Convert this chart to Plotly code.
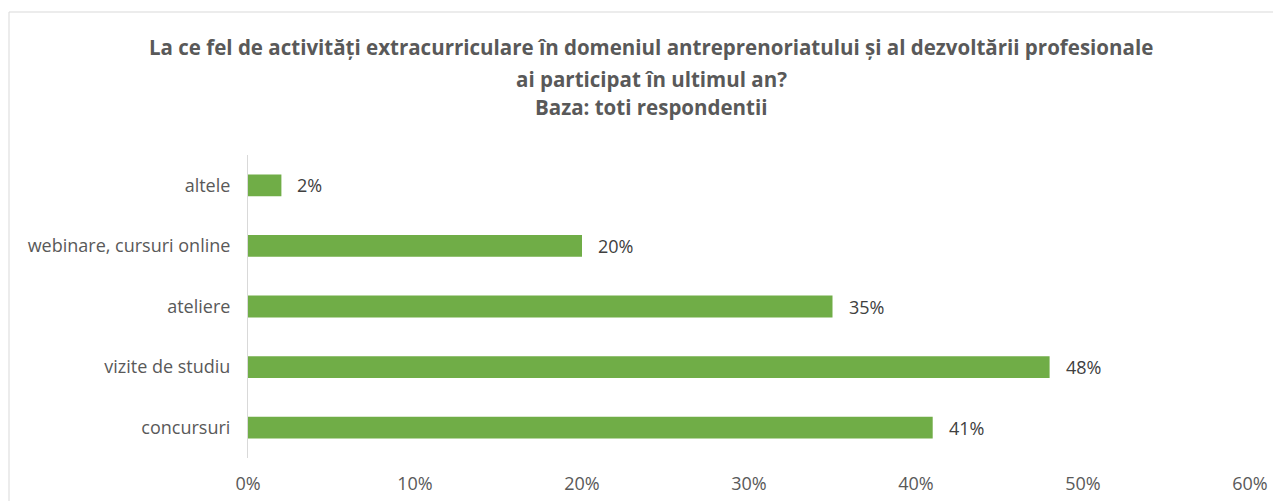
import plotly.graph_objects as go

categories = ["concursuri", "vizite de studiu", "ateliere", "webinare, cursuri online", "altele"]
values = [0.41, 0.48, 0.35, 0.20, 0.02]
x_ticks = [0, 0.1, 0.2, 0.3, 0.4, 0.5, 0.6]
x_tick_labels = ["0%", "10%", "20%", "30%", "40%", "50%", "60%"]
title_lines = [
    "La ce fel de activități extracurriculare în domeniul antreprenoriatului și al dezvoltării profesionale",
    "ai participat în ultimul an?",
    "Baza: toti respondentii",
]

OFF = 8  # page body margin
W, H = 1281 - OFF, 501 - OFF
L, R, T, B = 248 - OFF, 31, 155 - OFF, 43
pw, ph = W - L - R, H - T - B


def px_x(x):
    return (x - OFF - L) / pw


def px_y(y):
    return (H - B - (y - OFF)) / ph


fig = go.Figure()
fig.add_trace(go.Bar(
    x=values, y=categories, orientation="h",
    marker=dict(color="#70AD47", line=dict(width=0)),
    hoverinfo="x+y",
))

for v, c in zip(values, categories):
    fig.add_annotation(x=v, y=c, text=f"{round(v*100)}%", showarrow=False,
                       xanchor="left", xshift=14,
                       font=dict(family="Open Sans", size=18, color="#404040"))

for line, yc in zip(title_lines, [47, 79, 107]):
    fig.add_annotation(xref="paper", yref="paper", x=px_x(651), y=px_y(yc),
                       xanchor="center", yanchor="middle", showarrow=False, text=f"<b>{line}</b>",
                       font=dict(family="Open Sans", size=20.5, color="#595959"))

# chart border (extends past window on right/bottom)
fig.add_shape(type="rect", xref="paper", yref="paper",
              x0=px_x(9), x1=px_x(1300), y0=px_y(530), y1=px_y(12),
              line=dict(color="#D9D9D9", width=1), fillcolor="rgba(0,0,0,0)", layer="below")

fig.update_layout(
    width=W, height=H,
    margin=dict(l=L, r=R, t=T, b=B, pad=0, autoexpand=False),
    paper_bgcolor="white", plot_bgcolor="white",
    bargap=0.64,
    showlegend=False,
    font=dict(family="Open Sans", size=18, color="#595959"),
)
fig.update_xaxes(range=[0, 0.6], tickvals=x_ticks, ticktext=x_tick_labels, automargin=False,
                 showgrid=False, zeroline=False, showline=False,
                 ticklabelstandoff=13, tickfont=dict(size=18, color="#595959"))
fig.update_yaxes(showgrid=False, zeroline=False, showline=True, linecolor="#D9D9D9", linewidth=1,
                 automargin=False,
                 ticklabelstandoff=13, tickfont=dict(size=18, color="#595959"))

fig.write_html("out.html")
